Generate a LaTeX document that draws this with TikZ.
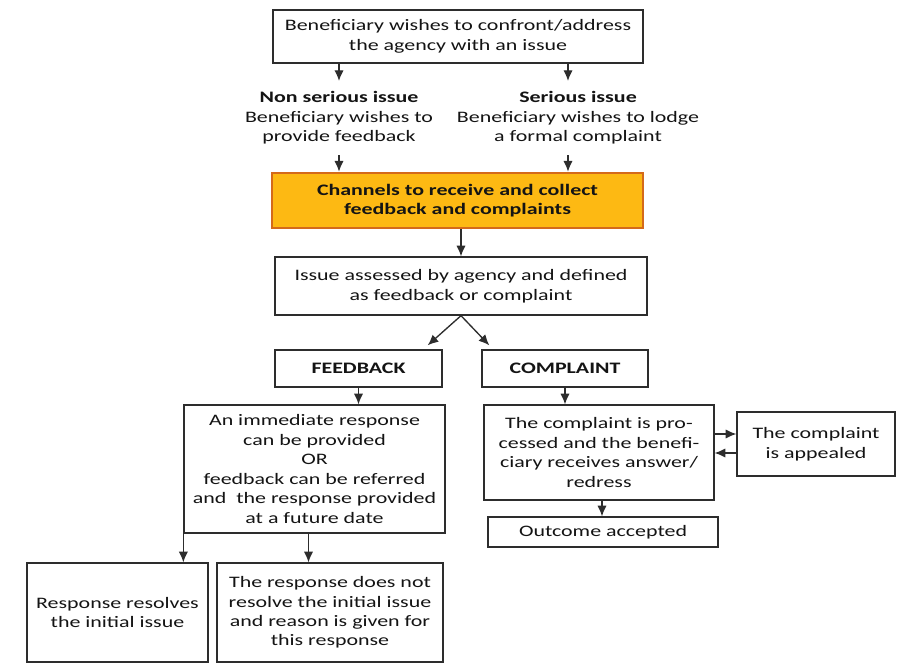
\documentclass[tikz,border=0pt]{standalone}
\usepackage{fontspec}
\setmainfont{Carlito}[FakeStretch=1.37]
\usetikzlibrary{positioning,arrows.meta}
\definecolor{gold}{RGB}{253,185,19}
\definecolor{rust}{RGB}{212,106,26}
\definecolor{ink}{RGB}{20,20,20}
\definecolor{edge}{RGB}{45,45,45}

\begin{document}
\begin{tikzpicture}[x=0.75pt, y=-0.75pt, -{Latex[length=8pt,width=7pt]}, line width=1pt, draw=edge, text=ink,
    box/.style = {draw=edge, rectangle, align=center, inner sep=0pt, line width=1pt,
      font=\fontsize{12pt}{14.6pt}\selectfont},
    hot/.style = {box, fill=gold, draw=rust, line width=2pt, font=\fontsize{12pt}{14.6pt}\selectfont\bfseries},
    plain/.style = {draw=none, align=center, inner xsep=0pt, inner ysep=7.5pt,
      font=\fontsize{12pt}{14.6pt}\selectfont}]
    \useasboundingbox[fill=white] (0,0) rectangle (912,666);

    \node[box, minimum width=277.5pt, minimum height=39.75pt] (top) at (458,36.5)
      {Beneficiary wishes to confront/address\\the agency with an issue};
    \node[plain] (ns) at (339,118)
      {\textbf{Non serious issue}\\Beneficiary wishes to\\provide feedback};
    \node[plain] (ser) at (578,118)
      {\textbf{Serious issue}\\Beneficiary wishes to lodge\\a formal complaint};
    \node[hot, minimum width=278.25pt, minimum height=41.25pt] (chan) at (457.5,200.5)
      {Channels to receive and collect\\feedback and complaints};
    \node[box, minimum width=279pt, minimum height=43.5pt] (assess) at (461,286)
      {Issue assessed by agency and defined\\as feedback or complaint};

    \node[box, minimum width=125.25pt, minimum height=27.75pt] (fb) at (358.5,368.5) {\textbf{FEEDBACK}};
    \node[box, minimum width=124.5pt, minimum height=27.75pt] (cp) at (565,368.5) {\textbf{COMPLAINT}};

    \node[box, minimum width=195.75pt, minimum height=96pt] (reply) at (314.5,469)
      {An immediate response\\can be provided\\OR\\feedback can be referred\\and\ \ the response provided\\at a future date};
    \node[box, minimum width=172.5pt, minimum height=71.25pt] (proc) at (599,452.5)
      {The complaint is pro-\\cessed and the benefi-\\ciary receives answer/\\redress};
    \node[box, minimum width=118.5pt, minimum height=48pt] (appeal) at (816,444)
      {The complaint\\is appealed};
    \node[box, minimum width=172.5pt, minimum height=22.5pt] (accept) at (603,532) {Outcome accepted};

    \node[box, minimum width=135.75pt, minimum height=74.25pt] (solved) at (117.5,612.5)
      {Response resolves\\the initial issue};
    \node[box, minimum width=169.5pt, minimum height=74.25pt] (unsolved) at (330,612.5)
      {The response does not\\resolve the initial issue\\and reason is given for\\this response};

    \coordinate (upper) at ([yshift=7.5pt]appeal.west);
    \coordinate (lower) at ([yshift=-6.75pt]appeal.west);

    \draw (top.south -| ns.north) -- (ns.north);
    \draw ([xshift=-7.5pt]ser.north |- top.south) -- ([xshift=-7.5pt]ser.north);
    \draw (ns.south) -- (ns.south |- chan.north);
    \draw ([xshift=-7.5pt]ser.south) -- ([xshift=-7.5pt]ser.south |- chan.north);
    \draw (assess.north |- chan.south) -- (assess.north);

    \draw (assess.south) -- ([shift={(-15,-4)}]fb.north east);
    \draw (assess.south) -- ([shift={(8,-4)}]cp.north west);
    \draw (fb.south) -- (fb.south |- reply.north);
    \draw (cp.south) -- (cp.south |- proc.north);

    \draw (upper -| proc.east) -- (upper);
    \draw (lower) -- (lower -| proc.east);
    \draw ([xshift=2.25pt]proc.south) -- ([xshift=2.25pt]proc.south |- accept.north);

    \draw (reply.south west) -- (reply.south west |- solved.north);
    \draw ([xshift=-4.5pt]reply.south) -- ([xshift=-4.5pt]reply.south |- unsolved.north);
\end{tikzpicture}
\end{document}
